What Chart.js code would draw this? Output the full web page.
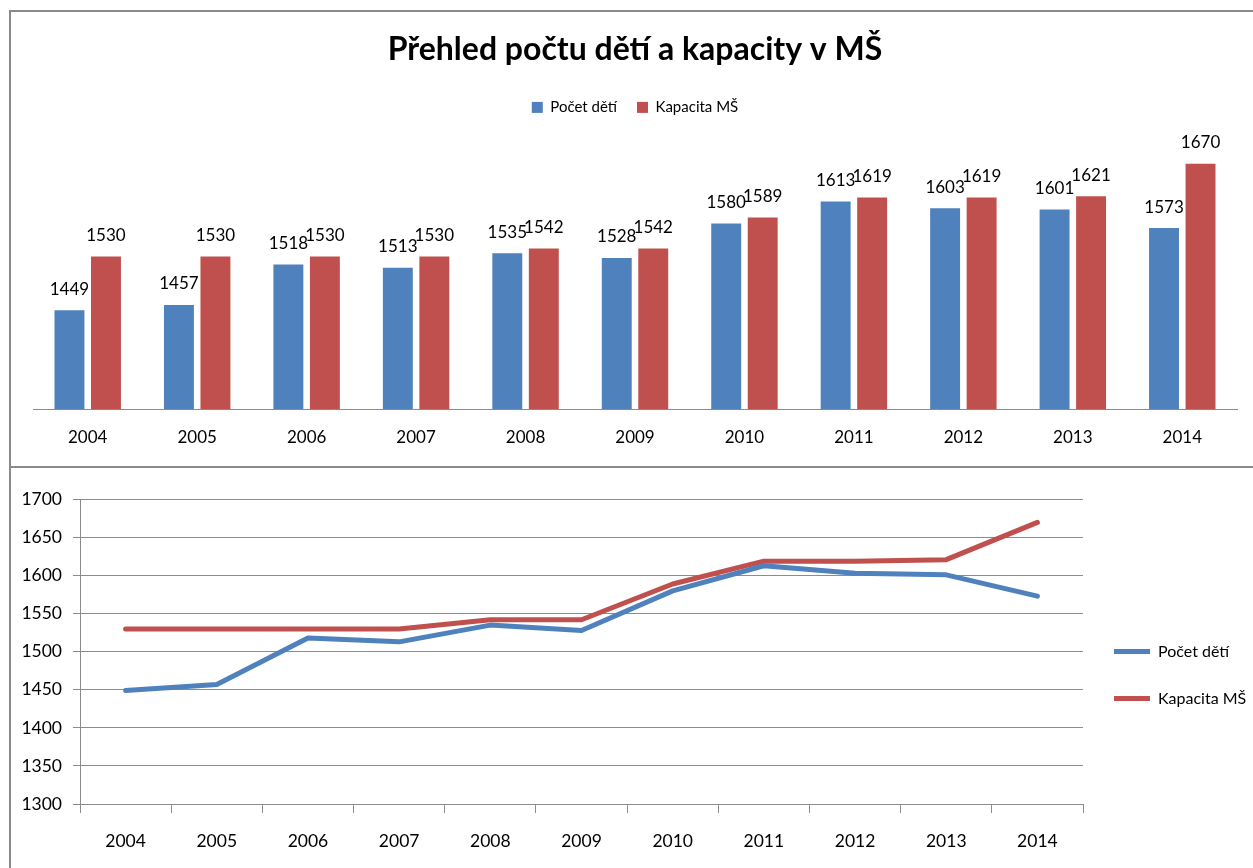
<!DOCTYPE html>
<html>
<head>
<meta charset="utf-8">
<script src="https://cdn.jsdelivr.net/npm/chart.js@4/dist/chart.umd.min.js"></script>
<style>
  html, body { margin: 0; padding: 0; background: #fff; }
  body { width: 1253px; height: 868px; position: relative; overflow: hidden; }
  .box { position: absolute; left: 0; width: 1253px; }
  #top { top: 0; height: 466px; }
  #bottom { top: 466px; height: 402px; }
  .line { position: absolute; background: #8a8a8a; z-index: 5; }
</style>
</head>
<body>
<div class="box" id="top"><canvas id="barChart"></canvas></div>
<div class="box" id="bottom"><canvas id="lineChart"></canvas></div>
<div class="line" style="left:9px; top:10px; width:2px; height:858px;"></div>
<div class="line" style="left:9px; top:10px; width:1244px; height:2px;"></div>
<div class="line" style="left:9px; top:466px; width:1244px; height:2px;"></div>
<script>
const years = ['2004','2005','2006','2007','2008','2009','2010','2011','2012','2013','2014'];
const pocetDeti = [1449, 1457, 1518, 1513, 1535, 1528, 1580, 1613, 1603, 1601, 1573];
const kapacitaMS = [1530, 1530, 1530, 1530, 1542, 1542, 1589, 1619, 1619, 1621, 1670];
const seriesNames = ['Počet dětí', 'Kapacita MŠ'];
const titleText = 'Přehled počtu dětí a kapacity v MŠ';
const yMin = 1300, yMax = 1700, yStep = 50;

const BLUE = '#4F81BD', RED = '#C0504D', GRID = '#8c8c8c', TEXT = '#000000';
const FONT = 'Lato, "Open Sans", sans-serif';

// Adds extra space / forced size to the legend box
const legendFitTweak = {
  id: 'legendFitTweak',
  beforeInit(chart, args, opts) {
    const legend = chart.legend;
    if (!legend) return;
    const origFit = legend.fit;
    legend.fit = function () {
      origFit.call(this);
      if (opts.extraHeight) this.height += opts.extraHeight;
      if (opts.width) this.width = opts.width;
    };
  }
};

// Value labels above bars
const barLabels = {
  id: 'barLabels',
  afterDatasetsDraw(chart, args, opts) {
    const ctx = chart.ctx;
    ctx.save();
    ctx.font = opts.font;
    ctx.fillStyle = opts.color;
    ctx.textAlign = 'center';
    ctx.textBaseline = 'middle';
    chart.data.datasets.forEach((ds, i) => {
      const meta = chart.getDatasetMeta(i);
      meta.data.forEach((el, j) => {
        const p = el.getProps(['x', 'y'], true);
        ctx.fillText(String(ds.data[j]), p.x, p.y - opts.offset);
      });
    });
    ctx.restore();
  }
};

new Chart(document.getElementById('barChart'), {
  type: 'bar',
  data: {
    labels: years,
    datasets: [
      { label: seriesNames[0], data: pocetDeti, backgroundColor: BLUE },
      { label: seriesNames[1], data: kapacitaMS, backgroundColor: RED }
    ]
  },
  options: {
    responsive: true,
    maintainAspectRatio: false,
    animation: false,
    events: [],
    layout: { padding: { left: 33, right: 16, top: 0, bottom: 15 } },
    datasets: { bar: { categoryPercentage: 0.667, barPercentage: 0.82 } },
    scales: {
      x: {
        grid: { display: false, drawTicks: false },
        border: { display: true, color: GRID, width: 1 },
        ticks: { color: TEXT, font: { family: FONT, size: 17 }, padding: 18 },
        afterFit(scale) { scale.height = 42; }
      },
      y: { display: false, min: yMin, max: yMax }
    },
    plugins: {
      title: {
        display: true, text: titleText, color: TEXT,
        font: { family: FONT, size: 32, weight: 'bold' },
        padding: { top: 30.5, bottom: 11 }
      },
      legend: {
        display: true, position: 'top',
        labels: {
          color: TEXT, font: { family: FONT, size: 15 },
          boxWidth: 11, boxHeight: 11, padding: 20
        }
      },
      tooltip: { enabled: false },
      legendFitTweak: { extraHeight: 19 },
      barLabels: { font: '17px ' + FONT, color: TEXT, offset: 21 }
    }
  },
  plugins: [legendFitTweak, barLabels]
});

new Chart(document.getElementById('lineChart'), {
  type: 'line',
  data: {
    labels: years,
    datasets: [
      { label: seriesNames[0], data: pocetDeti, borderColor: BLUE, backgroundColor: BLUE,
        borderWidth: 5, pointRadius: 0, tension: 0, borderCapStyle: 'round', borderJoinStyle: 'round' },
      { label: seriesNames[1], data: kapacitaMS, borderColor: RED, backgroundColor: RED,
        borderWidth: 5, pointRadius: 0, tension: 0, borderCapStyle: 'round', borderJoinStyle: 'round' }
    ]
  },
  options: {
    responsive: true,
    maintainAspectRatio: false,
    animation: false,
    events: [],
    layout: { padding: { left: 22, right: 0, top: 33.5, bottom: 17.75 } },
    scales: {
      x: {
        offset: true,
        grid: { display: true, offset: true, drawOnChartArea: false, drawTicks: true, tickLength: 9, color: GRID },
        border: { display: true, color: GRID, width: 1 },
        ticks: { color: TEXT, font: { family: FONT, size: 17.5, lineHeight: 1 }, padding: 19.75 },
        afterFit(scale) { scale.height = 46.25; }
      },
      y: {
        min: yMin, max: yMax,
        grid: { color: GRID, tickLength: 7 },
        border: { display: true, color: GRID, width: 1 },
        ticks: { stepSize: yStep, color: TEXT, font: { family: FONT, size: 17.5 }, padding: 11,
                 callback: (v) => String(v) },
        afterFit(scale) { scale.width = 58; }
      }
    },
    plugins: {
      legend: {
        display: true, position: 'right',
        labels: {
          color: TEXT, font: { family: FONT, size: 16 },
          usePointStyle: true, pointStyle: 'line', pointStyleWidth: 36, padding: 31
        }
      },
      tooltip: { enabled: false },
      legendFitTweak: { width: 170 }
    }
  },
  plugins: [legendFitTweak]
});
</script>
</body>
</html>
